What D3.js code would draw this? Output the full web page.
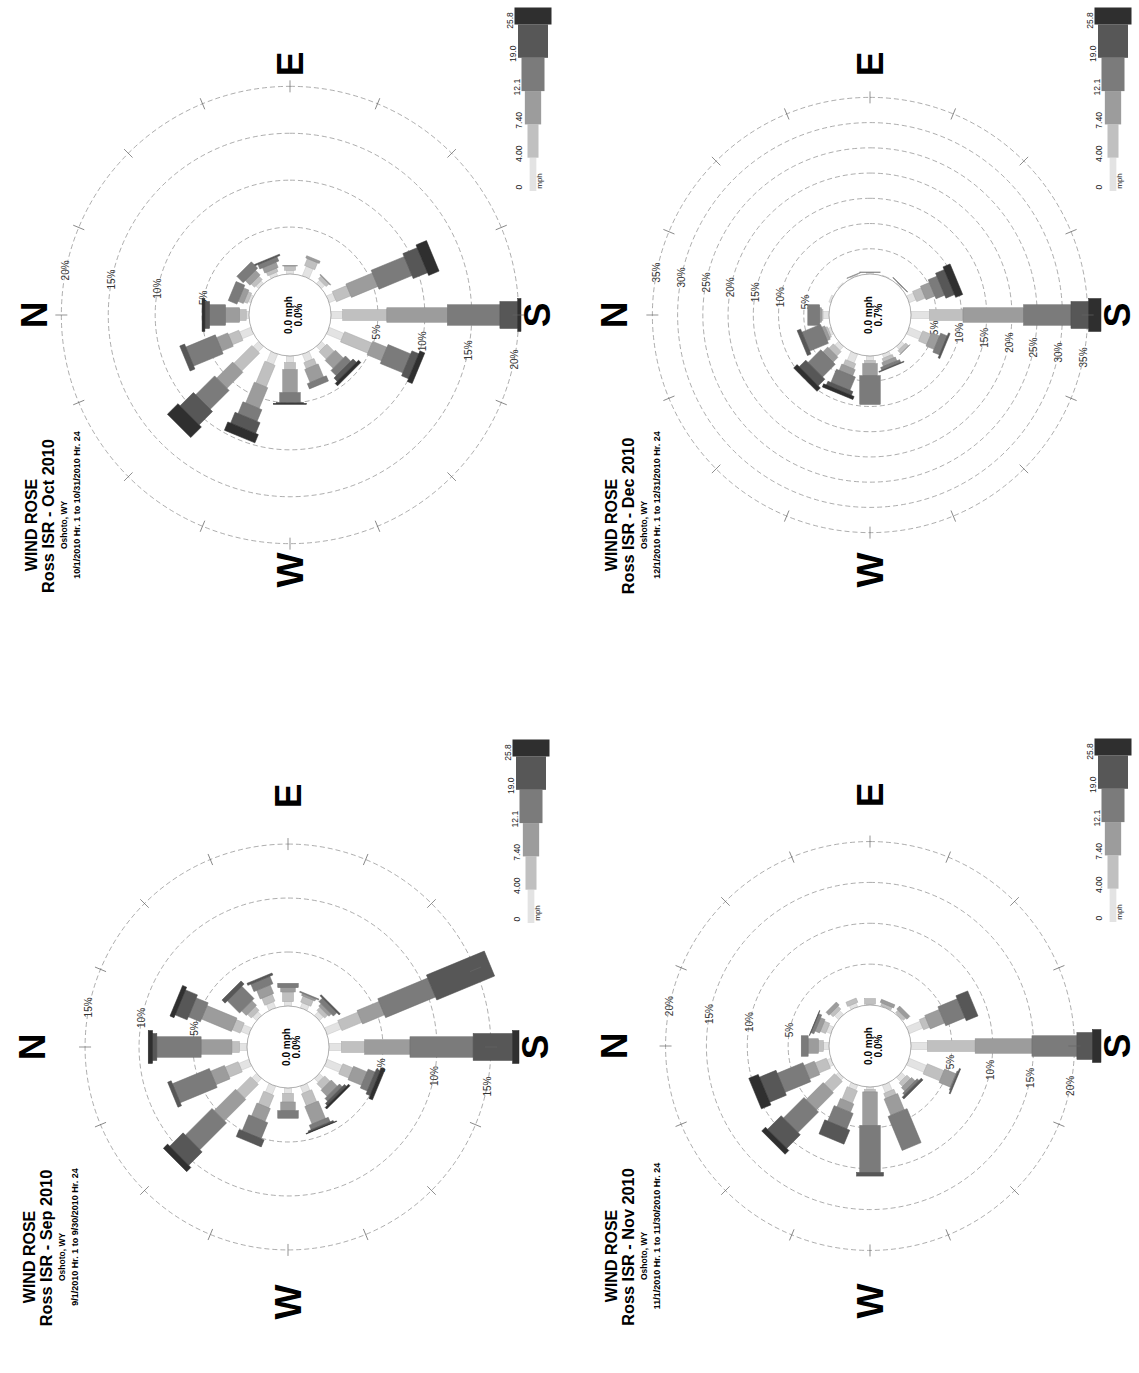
<!DOCTYPE html>
<html>
<head>
<meta charset="utf-8">
<script src="https://cdn.jsdelivr.net/npm/d3@7"></script>
<style>
  body { margin: 0; background: #fff; }
  svg { display: block; }
  text { font-family: "Liberation Sans", Arial, Helvetica, sans-serif; }
</style>
</head>
<body>
<svg id="chart" width="1139" height="1373"></svg>
<script>
// Compass sectors, clockwise from north
const directions = ["N", "NNE", "NE", "ENE", "E", "ESE", "SE", "SSE",
                    "S", "SSW", "SW", "WSW", "W", "WNW", "NW", "NNW"];

// Wind speed class boundaries (mph)
const speedBins = ["0", "4.00", "7.40", "12.1", "19.0", "25.8"];

// Frequency (% of hours) per direction, one column per speed class
const sepFreq = [
  [0.70, 0.70, 2.85, 4.10, 0.40, 0.40],
  [0.80, 0.80, 3.00, 1.20, 1.20, 0.40],
  [0.50, 0.50, 0.60, 1.60, 0.40, 0.00],
  [0.60, 0.70, 0.85, 0.75, 0.20, 0.00],
  [0.40, 0.90, 0.40, 0.40, 0.00, 0.00],
  [0.50, 0.60, 0.20, 0.10, 0.00, 0.00],
  [0.50, 0.40, 0.30, 0.45, 0.15, 0.00],
  [1.40, 2.00, 2.20, 5.00, 5.80, 0.00],
  [1.15, 2.15, 4.20, 5.85, 3.65, 0.60],
  [1.50, 1.00, 1.35, 0.70, 0.40, 0.35],
  [0.50, 0.70, 0.80, 0.35, 0.25, 0.20],
  [0.70, 1.20, 1.75, 0.45, 0.15, 0.05],
  [0.50, 0.80, 0.80, 0.70, 0.00, 0.00],
  [0.85, 1.25, 1.30, 1.60, 0.70, 0.00],
  [0.60, 1.80, 2.80, 3.50, 1.75, 0.55],
  [1.00, 1.30, 1.40, 3.70, 0.35, 0.00]
];

const octFreq = [
  [0.30, 0.70, 1.50, 1.70, 0.50, 0.30],
  [0.30, 0.40, 0.60, 1.00, 0.00, 0.00],
  [0.40, 0.50, 0.70, 0.95, 0.00, 0.00],
  [0.40, 0.40, 0.60, 0.50, 0.15, 0.00],
  [0.40, 0.45, 0.05, 0.00, 0.00, 0.00],
  [1.10, 0.80, 0.25, 0.00, 0.00, 0.00],
  [0.50, 0.40, 0.10, 0.00, 0.00, 0.00],
  [0.75, 1.65, 3.05, 3.80, 1.65, 1.20],
  [1.25, 4.70, 6.45, 5.60, 1.90, 0.35],
  [1.70, 3.15, 1.65, 2.60, 0.80, 0.55],
  [0.60, 1.10, 1.20, 0.80, 0.50, 0.35],
  [0.90, 0.70, 1.50, 0.60, 0.00, 0.00],
  [0.70, 0.75, 2.45, 1.05, 0.10, 0.10],
  [1.20, 2.50, 2.40, 1.35, 1.25, 0.95],
  [0.80, 2.70, 2.40, 2.85, 2.00, 1.60],
  [1.30, 1.20, 1.30, 3.40, 0.55, 0.00]
];

const novFreq = [
  [0.70, 0.60, 1.25, 0.85, 0.00, 0.00],
  [0.60, 0.70, 0.60, 0.40, 0.05, 0.00],
  [0.70, 0.50, 0.50, 0.00, 0.00, 0.00],
  [0.50, 0.55, 0.00, 0.00, 0.00, 0.00],
  [0.10, 0.70, 0.00, 0.00, 0.00, 0.00],
  [0.05, 0.35, 0.40, 0.00, 0.00, 0.00],
  [0.10, 0.40, 0.50, 0.00, 0.00, 0.00],
  [1.80, 0.80, 1.90, 2.55, 1.55, 0.00],
  [2.00, 5.85, 6.95, 5.50, 1.90, 1.05],
  [2.30, 2.20, 1.50, 0.15, 0.15, 0.00],
  [0.70, 0.60, 0.60, 0.30, 0.30, 0.00],
  [1.00, 0.65, 2.15, 4.50, 0.00, 0.00],
  [0.30, 0.30, 4.10, 5.75, 0.45, 0.00],
  [0.65, 1.65, 1.10, 2.05, 1.85, 0.00],
  [0.45, 1.75, 2.95, 3.55, 2.35, 0.65],
  [0.50, 1.50, 1.35, 3.40, 2.20, 1.25]
];

const decFreq = [
  [1.20, 0.30, 0.35, 2.35, 0.00, 0.00],
  [0.40, 0.00, 0.00, 0.00, 0.00, 0.00],
  [0.20, 0.00, 0.00, 0.00, 0.00, 0.00],
  [0.30, 0.00, 0.10, 0.00, 0.00, 0.00],
  [0.30, 0.00, 0.00, 0.10, 0.00, 0.00],
  [0.10, 0.00, 0.00, 0.00, 0.00, 0.00],
  [0.30, 0.00, 0.00, 0.10, 0.00, 0.00],
  [1.45, 1.85, 1.90, 1.85, 1.85, 1.50],
  [3.65, 6.65, 12.00, 9.40, 3.50, 2.45],
  [2.75, 1.75, 1.70, 1.40, 0.35, 0.00],
  [0.80, 0.80, 0.05, 0.00, 0.00, 0.00],
  [0.80, 0.70, 0.80, 0.60, 0.15, 0.00],
  [0.90, 0.60, 2.40, 5.70, 0.00, 0.00],
  [1.90, 1.10, 1.35, 2.85, 0.80, 0.65],
  [1.05, 1.25, 1.35, 3.55, 1.85, 0.95],
  [0.60, 0.40, 0.65, 4.00, 0.75, 0.00]
];

const panels = [
  { title: "Ross ISR - Oct 2010", period: "10/1/2010 Hr. 1 to 10/31/2010 Hr. 24",
    calm: "0.0%", freq: octFreq, cx: 290, cy: 315 },
  { title: "Ross ISR - Sep 2010", period: "9/1/2010 Hr. 1 to 9/30/2010 Hr. 24",
    calm: "0.0%", freq: sepFreq, cx: 288, cy: 1047 },
  { title: "Ross ISR - Dec 2010", period: "12/1/2010 Hr. 1 to 12/31/2010 Hr. 24",
    calm: "0.7%", freq: decFreq, cx: 870, cy: 315 },
  { title: "Ross ISR - Nov 2010", period: "11/1/2010 Hr. 1 to 11/30/2010 Hr. 24",
    calm: "0.0%", freq: novFreq, cx: 870, cy: 1046 }
];

// ---- styling ----
const classColors = ["#e3e3e3", "#c0c0c0", "#9c9c9c", "#7b7b7b", "#575757", "#2f2f2f"];
const roseWidths = [7.3, 11, 14.5, 20.5, 27, 33];
const legendWidths = [6.7, 11, 16.3, 23, 30, 37];
const R0 = 41;       // calm circle radius
const RBAR = 231;    // radius reached by the longest petal
const ringColor = "#8a8a8a";

const svg = d3.select("#chart");

const angle = d3.scalePoint().domain(directions).range([0, 337.5]);
const polar = (rad, deg) => {
  const a = deg * Math.PI / 180;
  return [rad * Math.sin(a), -rad * Math.cos(a)];
};

panels.forEach(p => {
  // page is printed landscape: every panel is turned a quarter turn
  const g = svg.append("g")
    .attr("transform", `translate(${p.cx},${p.cy}) rotate(-90)`);

  const totals = p.freq.map(row => d3.sum(row));
  const maxTotal = d3.max(totals);
  const r = d3.scaleLinear().domain([0, maxTotal]).range([R0, RBAR]);
  const ringMax = Math.floor(maxTotal / 5) * 5;
  const rings = d3.range(5, ringMax + 1e-6, 5);

  // dashed frequency rings
  g.append("g").selectAll("circle")
    .data(rings)
    .join("circle")
    .attr("r", d => r(d))
    .attr("fill", "none")
    .attr("stroke", ringColor)
    .attr("stroke-width", 0.7)
    .attr("stroke-dasharray", "5,3");

  // ring labels on two opposite spokes
  [11.25, 191.25].forEach(deg => {
    g.append("g").selectAll("text")
      .data(rings)
      .join("text")
      .attr("x", d => polar(r(d), deg)[0])
      .attr("y", d => polar(r(d), deg)[1])
      .attr("text-anchor", "middle")
      .attr("dominant-baseline", "central")
      .attr("font-size", 10)
      .attr("fill", "#333")
      .text(d => d + "%");
  });

  // petals: one stacked bar per direction, widening with speed class
  const petals = g.append("g").selectAll("g")
    .data(directions.map((dir, i) => ({ dir, row: p.freq[i] })))
    .join("g")
    .attr("transform", d => `rotate(${angle(d.dir)})`);

  petals.each(function (d) {
    const cum = Array.from(d3.cumsum(d.row));
    const segs = cum.map((end, k) => ({ k, start: k ? cum[k - 1] : 0, end }))
      .filter(s => s.end - s.start > 0);
    d3.select(this).selectAll("rect")
      .data(segs)
      .join("rect")
      .attr("x", s => -roseWidths[s.k] / 2)
      .attr("width", s => roseWidths[s.k])
      .attr("y", s => -r(s.end))
      .attr("height", s => r(s.end) - r(s.start))
      .attr("fill", s => classColors[s.k])
      .attr("stroke", s => d3.color(classColors[s.k]).darker(0.35))
      .attr("stroke-width", 0.5);
  });

  // spoke ticks on the outer ring
  const rOut = r(ringMax);
  g.append("g").selectAll("line")
    .data(directions)
    .join("line")
    .attr("transform", d => `rotate(${angle(d)})`)
    .attr("x1", 0).attr("x2", 0)
    .attr("y1", -rOut - 6).attr("y2", -rOut + 6)
    .attr("stroke", "#666")
    .attr("stroke-width", 0.7);

  // calm circle
  g.append("circle")
    .attr("r", R0)
    .attr("fill", "#fff")
    .attr("stroke", "#9a9a9a")
    .attr("stroke-width", 0.8);

  g.append("text")
    .attr("x", 0).attr("y", 1.5)
    .attr("text-anchor", "middle")
    .attr("font-size", 10).attr("font-weight", "bold")
    .text("0.0 mph");
  g.append("text")
    .attr("x", 0).attr("y", 11.5)
    .attr("text-anchor", "middle")
    .attr("font-size", 10).attr("font-weight", "bold")
    .text(p.calm);

  // compass letters
  const compass = [
    { t: "N", x: 0, y: -256 },
    { t: "E", x: 251, y: 0 },
    { t: "S", x: 0, y: 247 },
    { t: "W", x: -255, y: 0 }
  ];
  g.append("g").selectAll("text")
    .data(compass)
    .join("text")
    .attr("x", d => d.x).attr("y", d => d.y)
    .attr("text-anchor", "middle")
    .attr("dominant-baseline", "central")
    .attr("font-size", 37).attr("font-weight", "bold")
    .text(d => d.t);

  // speed legend
  const lx = d3.scaleLinear().domain([0, 5]).range([124, 290.5]);
  const legY = 243;
  const leg = g.append("g");
  leg.selectAll("rect")
    .data(speedBins)
    .join("rect")
    .attr("x", (d, i) => lx(i))
    .attr("width", (d, i) => i < 5 ? lx(i + 1) - lx(i) : 17)
    .attr("y", (d, i) => legY - legendWidths[i] / 2)
    .attr("height", (d, i) => legendWidths[i])
    .attr("fill", (d, i) => classColors[i]);
  // bin labels sit just clear of the bar that starts at each boundary
  leg.selectAll("text.bin")
    .data(speedBins)
    .join("text")
    .attr("class", "bin")
    .attr("x", (d, i) => lx(i) + 4)
    .attr("y", (d, i) => Math.min(231.5, legY - legendWidths[i] / 2 - 1.8))
    .attr("text-anchor", "middle")
    .attr("font-size", 8.5)
    .attr("fill", "#222")
    .text(d => d);
  leg.append("text")
    .attr("x", 134).attr("y", 252)
    .attr("text-anchor", "middle")
    .attr("font-size", 8)
    .attr("fill", "#222")
    .text("mph");

  // titles
  const titles = [
    { t: "WIND ROSE", x: -210, y: -253, size: 16 },
    { t: p.title, x: -201, y: -236.5, size: 16.3 },
    { t: "Oshoto, WY", x: -210, y: -223, size: 8.5 },
    { t: p.period, x: -190, y: -210, size: 9 }
  ];
  g.append("g").selectAll("text")
    .data(titles)
    .join("text")
    .attr("x", d => d.x).attr("y", d => d.y)
    .attr("text-anchor", "middle")
    .attr("font-weight", "bold")
    .attr("font-size", d => d.size)
    .text(d => d.t);
});
</script>
</body>
</html>
